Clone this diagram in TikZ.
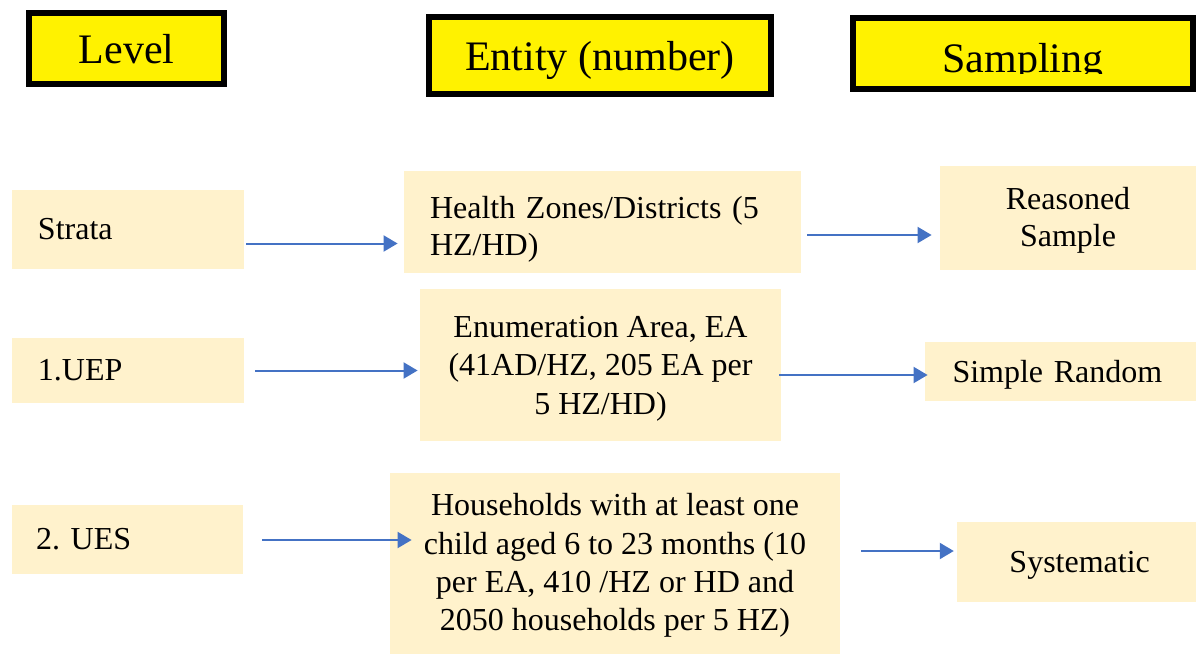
\documentclass[tikz,border=0pt]{standalone}
\usepackage{fontspec}
\setmainfont{Liberation Serif}
\usepackage{tikz}
\usetikzlibrary{arrows.meta,positioning}
\definecolor{cream}{HTML}{FFF2CC}
\definecolor{arrowblue}{HTML}{4472C4}
\tikzset{>=latex}
\tikzset{head/.style={draw=black, line width=3pt, fill=yellow, inner sep=0pt,
    font=\fontsize{21}{25}\selectfont}}
\tikzset{cell/.style={fill=cream, inner sep=0pt, font=\fontsize{16}{19.2}\selectfont}}
\tikzset{tight/.style={font=\fontsize{16}{18.5}\selectfont}}
\tikzset{arr/.style={draw=arrowblue, line width=1pt,
    -{Triangle[length=7pt,width=8pt]}}}

\begin{document}
\begin{tikzpicture}[x=0.5pt,y=-0.5pt]
  \useasboundingbox (0,0) rectangle (1196,654);
  % headers
  \node[head, minimum width=97.5pt, minimum height=35.5pt, text depth=-4.5pt] (level) at (126.5,48.5) {Level};
  \node[head, minimum width=171pt, minimum height=38.5pt, text depth=-1.8pt] (entity) at (600,55.5) {Entity (number)};
  \node[head, minimum width=170pt, minimum height=35.5pt] (sampling) at (1023,53.5) {};
  \begin{scope}
    \clip (850,0) rectangle (1196,73);
    \node[font=\fontsize{21}{25}\selectfont, anchor=base] (samptext) at (1023,72) {Sampling};
  \end{scope}
  % level column
  \node[cell, minimum width=116pt, minimum height=39.5pt, text width=90pt, align=left] (strata) at (128,229.5) {Strata};
  \node[cell, minimum width=116pt, minimum height=32.5pt, text width=90pt, align=left] (uep) at (128,370.5) {1.UEP};
  \node[cell, minimum width=115.5pt, minimum height=34.5pt, text width=91.5pt, align=left] (ues) at (127.5,539.5) {2.\ UES};
  % entity column
  \node[cell, tight, minimum width=198.5pt, minimum height=51pt, text width=172.5pt, align=left, text depth=14.5pt] (hz) at (602.5,222)
    {Health Zones/Districts (5\\HZ/HD)};
  \node[cell, minimum width=180.5pt, minimum height=76pt, align=center, text depth=-0.3pt] (ea) at (600.5,365.3)
    {Enumeration Area, EA\\(41AD/HZ, 205 EA per\\5 HZ/HD)};
  \node[cell, minimum width=225pt, minimum height=90.7pt, align=center, text depth=1.3pt] (hh) at (615,563.4)
    {Households with at least one\\child aged 6 to 23 months (10\\per EA, 410 /HZ or HD and\\2050 households per 5 HZ)};
  % sampling column
  \node[cell, tight, minimum width=128pt, minimum height=52pt, align=center, text depth=0.8pt] (reasoned) at (1068,218) {Reasoned\\Sample};
  \node[cell, minimum width=135.5pt, minimum height=29.5pt, text width=108pt, align=left, text depth=-1.3pt] (simple) at (1060.5,371.7) {Simple Random};
  \node[cell, minimum width=119.5pt, minimum height=39.7pt, align=center, text depth=0.6pt] (syst) at (1076.7,562) {\hspace*{3pt}Systematic};
  % arrows
  \path ([xshift=1pt,yshift=-7pt]strata.east) coordinate (s1);
  \draw[arr, shorten >=3pt] (s1) -- (s1 -| hz.west);
  \path ([xshift=3pt,yshift=-6.5pt]hz.east) coordinate (s2);
  \draw[arr, shorten >=4pt] (s2) -- (s2 -| reasoned.west);
  \path ([xshift=5.5pt]uep.east) coordinate (s3);
  \draw[arr, shorten >=1pt] (s3) -- (s3 -| ea.west);
  \path ([xshift=-1pt,yshift=-4.85pt]ea.east) coordinate (s4);
  \draw[arr, shorten >=-1.5pt] (s4) -- (s4 -| simple.west);
  \path ([xshift=9.5pt,yshift=-0.25pt]ues.east) coordinate (s5);
  \draw[arr, shorten >=-11pt] (s5) -- (s5 -| hh.west);
  \path ([xshift=10.5pt,yshift=6.2pt]hh.east) coordinate (s6);
  \draw[arr, shorten >=1.5pt] (s6) -- (s6 -| syst.west);
\end{tikzpicture}
\end{document}
